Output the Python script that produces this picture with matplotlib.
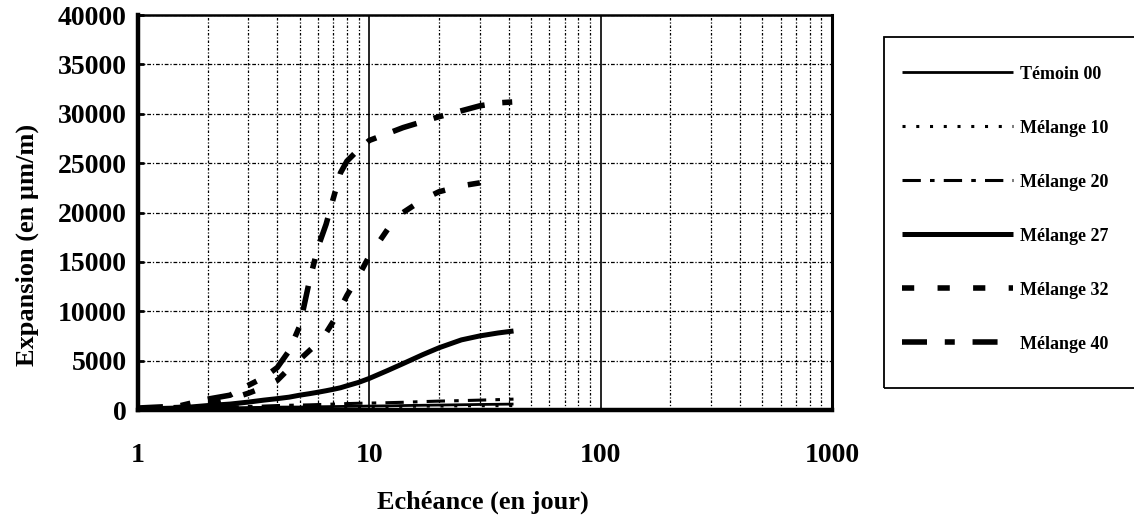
import matplotlib
matplotlib.use("Agg")
import matplotlib.pyplot as plt
from matplotlib.patches import Rectangle
from matplotlib.ticker import FixedLocator, NullFormatter, FixedFormatter

plt.rcParams['font.family'] = ['Liberation Serif', 'DejaVu Serif']
plt.rcParams['font.weight'] = 'bold'

# ---- data ----
days = [1, 1.5, 2, 2.5, 3, 3.5, 4, 4.5, 5, 5.5, 6, 6.5, 7, 7.5, 8, 9, 10,
        12, 14, 17, 20, 25, 30, 36, 42]
temoin00 = [100, 150, 200, 220, 250, 270, 290, 300, 300, 320, 330, 340, 350,
            360, 370, 380, 400, 420, 450, 480, 500, 530, 560, 580, 600]
melange10 = [50, 100, 150, 200, 250, 260, 270, 280, 300, 300, 310, 320, 320,
             330, 340, 340, 350, 360, 370, 390, 400, 420, 430, 440, 450]
melange20 = [100, 180, 250, 300, 350, 400, 450, 480, 500, 520, 550, 570, 600,
             620, 650, 680, 700, 740, 780, 850, 900, 950, 1000, 1050, 1100]
melange27 = [100, 200, 450, 600, 800, 1000, 1150, 1300, 1500, 1650, 1800,
             1950, 2100, 2250, 2450, 2800, 3200, 4000, 4700, 5600, 6300, 7100,
             7500, 7800, 8000]
days32 = [1, 1.5, 2, 2.5, 3, 3.5, 4, 4.5, 5, 5.5, 6, 6.5, 7, 7.5, 8, 9, 10,
          12, 14, 17, 20, 25, 30, 36]
melange32 = [100, 250, 600, 1100, 1700, 2300, 3000, 4200, 5100, 6000, 6800,
             7800, 9000, 10300, 11600, 13600, 15600, 18300, 20000, 21300,
             22100, 22700, 23000, 23300]
melange40 = [200, 400, 1100, 1500, 2500, 3300, 4300, 6000, 8500, 13000,
             16500, 18800, 21500, 24000, 25200, 26400, 27300, 28000, 28600,
             29200, 29700, 30300, 30800, 31100, 31200]

labels = ["Témoin 00", "Mélange 10", "Mélange 20", "Mélange 27",
          "Mélange 32", "Mélange 40"]
xtick_vals = [1, 10, 100, 1000]
xtick_labels = ["1", "10", "100", "1000"]
ytick_vals = [0, 5000, 10000, 15000, 20000, 25000, 30000, 35000, 40000]

W, H = 1134, 523
fig = plt.figure(figsize=(W / 100, H / 100), dpi=100)
ax = fig.add_axes([138 / W, 1 - 410 / H, (832 - 138) / W, (410 - 15) / H])

styles = [
    dict(color='black', lw=2.0, ls='-'),
    dict(color='black', lw=2.2, ls=(0, (1, 3.5))),
    dict(color='black', lw=2.2, ls=(0, (6, 3, 1.5, 3))),
    dict(color='black', lw=3.6, ls='-'),
    dict(color='black', lw=4.0, ls=(0, (2.2, 4.2))),
    dict(color='black', lw=4.0, ls=(0, (4.5, 3.2, 1.8, 3.2))),
]
series = [(days, temoin00), (days, melange10), (days, melange20),
          (days, melange27), (days32, melange32), (days, melange40)]
handles = []
for (xs, ys), st, lab in zip(series, styles, labels):
    h, = ax.plot(xs, ys, label=lab, solid_capstyle='butt',
                 dash_capstyle='butt', zorder=3, **st)
    handles.append(h)

ax.set_xscale('log')
ax.set_xlim(1, 1000)
ax.set_ylim(0, 40000)

ax.xaxis.set_major_locator(FixedLocator(xtick_vals))
ax.xaxis.set_major_formatter(FixedFormatter(xtick_labels))
minor = [m * 10 ** d for d in range(3) for m in range(2, 10)]
ax.xaxis.set_minor_locator(FixedLocator(minor))
ax.xaxis.set_minor_formatter(NullFormatter())
ax.yaxis.set_major_locator(FixedLocator(ytick_vals))

ax.grid(True, which='major', axis='x', color='black', lw=1.2, ls='-')
ax.grid(True, which='minor', axis='x', color='black', lw=0.9,
        ls=(0, (2, 1.5, 1, 1.5)))
ax.grid(True, which='major', axis='y', color='black', lw=0.9,
        ls=(0, (3, 1.5, 1, 1.5)))
ax.set_axisbelow(True)

ax.tick_params(axis='x', which='both', length=0, pad=24, labelsize=20)
ax.tick_params(axis='y', which='major', direction='in', length=4, width=2,
               pad=8, labelsize=20)
for lab in ax.get_xticklabels() + ax.get_yticklabels():
    lab.set_fontweight('bold')

ax.spines['left'].set_linewidth(3.2)
ax.spines['bottom'].set_linewidth(3.2)
ax.spines['top'].set_linewidth(1.8)
ax.spines['right'].set_linewidth(2.2)

fig.text(483 / W, 1 - 502 / H, "Echéance (en jour)", ha='center',
         va='center', fontsize=19, fontweight='bold')
fig.text(27 / W, 1 - 245 / H, "Expansion (en µm/m)", ha='center',
         va='center', rotation=90, fontsize=19, fontweight='bold')

# legend box
fig.patches.append(Rectangle((884 / W, 1 - 388 / H), (1140 - 884) / W,
                             (388 - 37) / H, transform=fig.transFigure,
                             fill=False, edgecolor='black', lw=1.3))
leg = fig.legend(handles=handles, labels=labels, loc='upper left',
                 bbox_to_anchor=(880 / W, 1 - 44 / H), frameon=False,
                 fontsize=13, handlelength=6.15, handletextpad=0.4,
                 labelspacing=2.05, borderpad=1.2, borderaxespad=0)
for t in leg.get_texts():
    t.set_fontweight('bold')

fig.savefig("out.png", dpi=100)
